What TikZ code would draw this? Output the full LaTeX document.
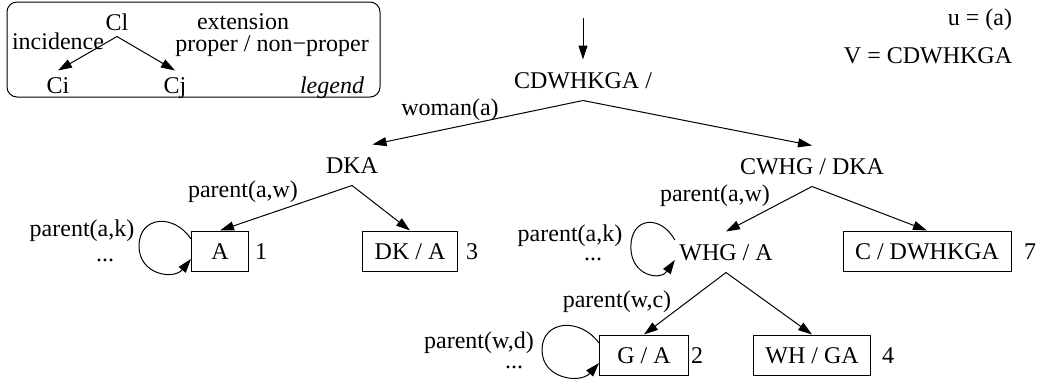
\documentclass[tikz,border=0pt]{standalone}
\usepackage{fontspec}
\setmainfont{Liberation Serif}
\usetikzlibrary{calc,arrows.meta}
\tikzset{
	% ------- every something
	every path/.style={
		line width=0.5pt,
	},
	every node/.style={
		font=\fontsize{12}{14}\selectfont,
	},
	% ------- custom
	vector/.style={
		-{Triangle[length=7pt,width=4.5pt]},
	},
	vertex/.style={
		minimum height=20pt,
		text height=8pt,
		text depth=0pt,
		inner xsep=2pt,
	},
	leaf/.style={
		vertex,
		draw,
		inner xsep=6pt,
	},
	key/.style={
		minimum height=14pt,
		text height=8pt,
		text depth=0pt,
		inner sep=1pt,
	},
	tag/.style={
		anchor=base,
		inner sep=0pt,
	},
	legend box/.style={
		rounded corners=5pt,
	},
}

\begin{document}
\begin{tikzpicture}[x=0.5pt,y=-0.5pt]

% frame %{{{1

	\useasboundingbox (0,0) rectangle (1042,382);

% legend %{{{1

	\draw[legend box] (7,2) rectangle (380,97);

	\node[key] (cl) at (117,22) {Cl};
	\node[key] (ci) at (58,85) {Ci};
	\node[key] (cj) at (175,85) {Cj};

	\draw[vector] (cl.south) -- (ci.north);
	\draw[vector] (cl.south) -- (cj.north);

	\node[tag] (incidence) at (58,49) {incidence};
	\node[tag] (extension) at (243,29) {extension};
	\node[tag] (proper) at (272,51) {proper / non−proper};
	\node[tag] (legendtag) at (332,93) {\itshape legend};

% parameters %{{{1

	\node[tag] (uvar) at (980,25) {u = (a)};
	\node[tag] (vvar) at (928,63) {V = CDWHKGA};

% coordinates %{{{1

	\coordinate (start) at (583,18);

% nodes %{{{1

	\node[vertex] (root) at (583,80) {CDWHKGA /};
	\node[vertex] (dka) at (352,165) {DKA};
	\node[vertex] (cwhg) at (812,166) {CWHG / DKA};
	\node[vertex] (whg) at (726,252) {WHG / A};

	\node[leaf, minimum width=28.5pt] (a) at (220,251) {A};
	\node[leaf] (dk) at (410,251) {DK / A};
	\node[leaf] (c) at (927,251) {C / DWHKGA};
	\node[leaf, minimum width=44.5pt] (ga) at (644,355) {G / A};
	\node[leaf] (wh) at (812,355) {WH / GA};

% arrows %{{{1

	\draw[vector] (start) -- (root);

	\draw[vector] (root.south) -- (dka.45);
	\draw[vector] (root.south) -- (cwhg.north);

	\draw[vector] (dka.south) -- (a.north);
	\draw[vector] (dka.south) -- (dk.north);

	\draw[vector] (cwhg.south) -- (whg.north);
	\draw[vector] (cwhg.south) -- (c.north);

	\draw[vector] (whg.south) -- (ga.north);
	\draw[vector] (whg.south) -- (wh.north);

% loops %{{{1

	\foreach \n/\w in {a/52,whg/44,ga/57}{
		\draw[vector] ($(\n.west)+(0,-12)$)
			.. controls ($(\n.west)+(-0.33*\w,-38)$) and ($(\n.west)+(-\w,-35)$) .. ($(\n.west)+(-\w,-5)$)
			.. controls ($(\n.west)+(-\w,24)$) and ($(\n.west)+(-0.33*\w,29)$) .. ($(\n.west)+(0,8)$);
	}

% arrows labels %{{{1

	\node[tag] (woman) at (450,115) {woman(a)};
	\node[tag] (paw) at (243,197) {parent(a,w)};
	\node[tag] (pak) at (82,236) {parent(a,k)};
	\node[tag] (dotsa) at (105,261) {...};

	\node[tag] (pawr) at (715,201) {parent(a,w)};
	\node[tag] (pakr) at (570,241) {parent(a,k)};
	\node[tag] (dotsw) at (593,260) {...};

	\node[tag] (pwc) at (617,307) {parent(w,c)};
	\node[tag] (pwd) at (479,348) {parent(w,d)};
	\node[tag] (dotsg) at (514,368) {...};

% leaves numbers %{{{1

	\node[tag] (n1) at (261,259) {1};
	\node[tag] (n3) at (472,259) {3};
	\node[tag] (n7) at (1030,259) {7};
	\node[tag] (n2) at (697,363) {2};
	\node[tag] (n4) at (888,363) {4};

% closing %{{{1

\end{tikzpicture}
\end{document}
